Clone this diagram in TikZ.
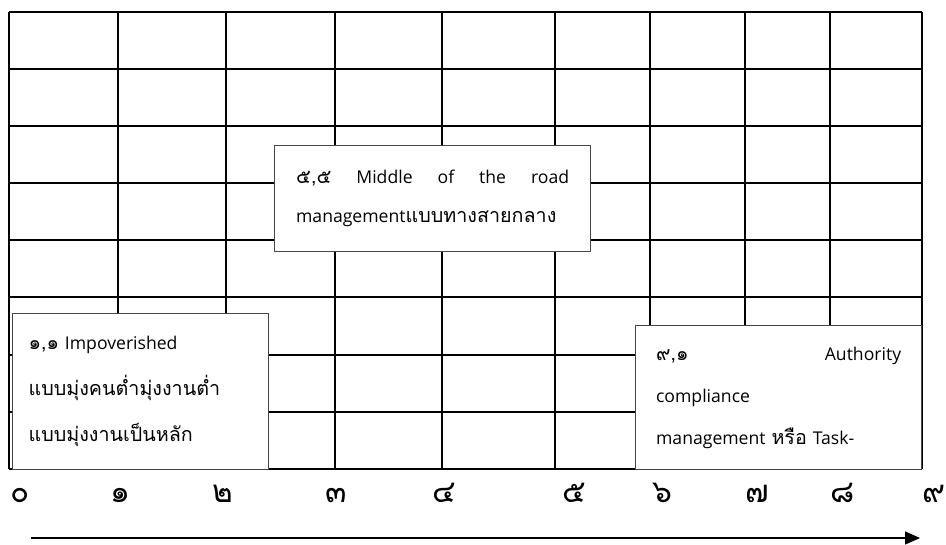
\documentclass[tikz,border=0pt]{standalone}
\usepackage{fontspec}
\setmainfont{Open Sans}
\newfontfamily\thaifont[Script=Thai,Scale=1.12]{Loma}
\usetikzlibrary{arrows.meta,positioning}
\definecolor{boxedge}{RGB}{70,70,70}

\begin{document}
\begin{tikzpicture}[x=0.5pt,y=-0.5pt,>={Triangle[length=7.5pt,width=6.5pt]},font=\fontsize{8.8}{21}\selectfont]
    \useasboundingbox (0,0) rectangle (946,545);
    % grid
    \foreach \gx in {9,118,226,335,442,555,650,745,830,922}
      \draw[line width=1pt] (\gx,12) -- (\gx,469);
    \foreach \gy in {12,69,126,183,240,297,355,412,469}
      \draw[line width=1pt] (9,\gy) -- (922,\gy);
    % the three boxes
    \node[draw=boxedge,fill=white,line width=0.6pt,inner sep=0pt,anchor=north west,minimum width=128pt,minimum height=78pt,text width=112pt,align=left,font=\fontsize{8.8}{23}\selectfont] (impov) at (12,313) {{\thaifont ๑,๑} Impoverished\\{\thaifont แบบมุ่งคนต่ำมุ่งงานต่ำ}\\{\thaifont แบบมุ่งงานเป็นหลัก}};
    \node[draw=boxedge,fill=white,line width=0.6pt,inner sep=0pt,anchor=north west,minimum width=158pt,minimum height=53pt,text width=136.5pt,align=left,font=\fontsize{8.8}{19.5}\selectfont] (middle) at (274,145) {{\thaifont ๕,๕}\hfill Middle\hfill of\hfill the\hfill road\\management{\thaifont แบบทางสายกลาง}};
    \node[draw=boxedge,fill=white,line width=0.6pt,inner sep=0pt,anchor=north west,minimum width=143pt,minimum height=72pt,text width=122.5pt,align=left,font=\fontsize{8.8}{21}\selectfont] (task) at (635,325) {{\thaifont ๙,๑}\hfill Authority\\compliance\\management {\thaifont หรือ} Task-};
    % axis
    \foreach \lx/\dg [count=\i from 0] in {10/๐,110/๑,212/๒,325/๓,432/๔,562/๕,652/๖,745/๗,830/๘,922/๙}
      \node[anchor=base west,inner sep=0pt,font=\thaifont\fontsize{14}{17}\selectfont] (n\i) at (\lx,502) {\dg};
    \coordinate (axl) at (31,538);
    \coordinate (axr) at (920,538);
    \draw[->,line width=0.6pt] (axl) -- (axr);
  \end{tikzpicture}
\end{document}
